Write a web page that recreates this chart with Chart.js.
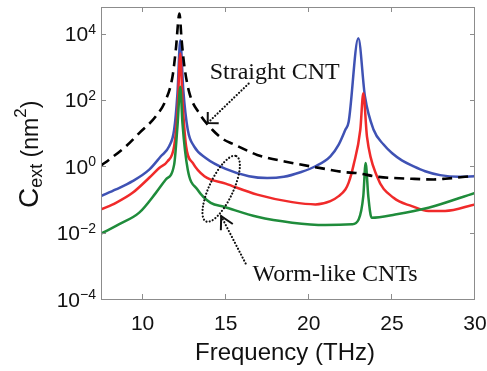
<!DOCTYPE html>
<html>
<head>
<meta charset="utf-8">
<script src="https://cdn.jsdelivr.net/npm/chart.js@4.4.1/dist/chart.umd.min.js"></script>
<style>
  html, body { margin: 0; padding: 0; background: #fff; }
  canvas { display: block; }
</style>
</head>
<body>
<canvas id="cextChart" width="487" height="371"></canvas>
<script>
// extinction cross section (nm^2) vs frequency (THz)
const freqStraight = [7.5, 8.0, 9.0, 9.8, 10.8, 11.4, 11.8, 12.0, 12.22, 12.35, 12.52, 12.82, 13.4, 14.2, 14.9, 15.4, 16.4, 16.9, 19.0, 21.0, 22.2, 22.8, 24.2, 26.2, 27.5, 28.2, 30]
const cextStraight = [1.05, 1.6, 4.0, 10, 32, 100, 500, 3200, 40000, 6300, 1000, 160, 40, 12.6, 6.3, 4.8, 2.8, 2.2, 1.26, 0.83, 0.66, 0.63, 0.48, 0.42, 0.40, 0.42, 0.52]

const freqWormA = [7.5, 8.4, 9.4, 10.4, 11.1, 11.6, 11.9, 12.1, 12.27, 12.45, 12.72, 13.1, 13.8, 15.0, 16.4, 17.5, 18.5, 19.5, 20.4, 21.3, 21.8, 22.2, 22.4, 22.98, 23.38, 23.9, 24.5, 25.0, 25.6, 26.3, 27.0, 27.9, 29.0, 30]
const cextWormA = [0.126, 0.2, 0.355, 0.79, 2.0, 4.0, 12.6, 158, 6300, 200, 12.6, 4.0, 1.78, 0.83, 0.5, 0.44, 0.48, 0.66, 1.0, 2.0, 4.5, 12.6, 22, 7200, 126, 12.6, 4.5, 2.5, 1.5, 1.0, 0.71, 0.54, 0.48, 0.5]

const freqWormB = [7.5, 8.4, 9.4, 10.4, 11.0, 11.5, 11.9, 12.1, 12.27, 12.4, 12.62, 13.02, 13.72, 15.0, 16.9, 19.0, 20.4, 21.3, 21.8, 22.2, 22.4, 22.7, 23.1, 23.28, 23.5, 24.1, 25.1, 26.2, 27.2, 28.2, 30]
const cextWormB = [0.05, 0.079, 0.158, 0.45, 0.89, 1.4, 4.0, 40, 2500, 100, 4.0, 1.26, 0.5, 0.3, 0.14, 0.083, 0.071, 0.089, 0.126, 0.2, 0.32, 1.12, 12.6, 158, 7.9, 0.5, 0.112, 0.063, 0.045, 0.045, 0.071]

const freqWormC = [7.5, 8.6, 9.8, 10.8, 11.4, 11.9, 12.1, 12.27, 12.4, 12.72, 13.3, 14.1, 14.9, 16.9, 19.0, 21.0, 22.6, 23.0, 23.28, 23.42, 23.58, 23.78, 25.2, 27.2, 30]
const cextWormC = [0.0093, 0.018, 0.04, 0.158, 0.4, 1.12, 15.8, 250, 20, 0.79, 0.2, 0.079, 0.06, 0.03, 0.02, 0.017, 0.018, 0.025, 0.126, 1.26, 0.126, 0.028, 0.035, 0.056, 0.158]

const xTicks = [10, 15, 20, 25, 30]
const yTickExps = [-4, -2, 0, 2, 4]

const SANS = '"Liberation Sans", Arial, sans-serif'
const SERIF = '"Liberation Serif", "Times New Roman", serif'

function points(xs, ys) {
  return xs.map((f, i) => ({ x: f, y: ys[i] }))
}

function dottedArrow(ctx, x0, y0, x1, y1, wing, spread) {
  ctx.save()
  ctx.lineCap = 'round'
  ctx.lineWidth = 2.2
  ctx.setLineDash([0.01, 3.3])
  ctx.beginPath()
  ctx.moveTo(x0, y0)
  ctx.lineTo(x1, y1)
  ctx.stroke()
  // open arrow head at (x1, y1)
  const back = Math.atan2(y0 - y1, x0 - x1)
  ctx.setLineDash([])
  ctx.lineWidth = 2
  ctx.lineCap = 'butt'
  ctx.beginPath()
  ctx.moveTo(x1 + wing * Math.cos(back - spread), y1 + wing * Math.sin(back - spread))
  ctx.lineTo(x1, y1)
  ctx.lineTo(x1 + wing * Math.cos(back + spread), y1 + wing * Math.sin(back + spread))
  ctx.stroke()
  ctx.restore()
}

const frameAndLabels = {
  id: 'frameAndLabels',
  afterDraw(chart) {
    const { ctx, chartArea: a } = chart
    const x = chart.scales.x
    const y = chart.scales.y
    ctx.save()

    // box and inward ticks
    ctx.strokeStyle = '#8c8c8c'
    ctx.lineWidth = 1
    ctx.strokeRect(a.left + 0.5, a.top + 0.5, a.right - a.left - 1, a.bottom - a.top)
    ctx.beginPath()
    xTicks.forEach(v => {
      const px = Math.round(x.getPixelForValue(v)) - 0.5
      ctx.moveTo(px, a.bottom); ctx.lineTo(px, a.bottom - 5)
      ctx.moveTo(px, a.top); ctx.lineTo(px, a.top + 5)
    })
    yTickExps.forEach(e => {
      const py = Math.round(y.getPixelForValue(Math.pow(10, e))) + 0.5
      ctx.moveTo(a.left, py); ctx.lineTo(a.left + 5, py)
      ctx.moveTo(a.right, py); ctx.lineTo(a.right - 5, py)
    })
    ctx.stroke()

    ctx.fillStyle = '#111'
    ctx.textBaseline = 'alphabetic'

    // x tick labels
    ctx.font = '21px ' + SANS
    ctx.textAlign = 'center'
    xTicks.forEach(v => ctx.fillText(String(v), x.getPixelForValue(v), a.bottom + 31))

    // y tick labels as 10 with a raised exponent
    const right = a.left - 5
    yTickExps.forEach(e => {
      const py = y.getPixelForValue(Math.pow(10, e))
      const exp = e < 0 ? '\u2212' + Math.abs(e) : String(e)
      ctx.font = '14px ' + SANS
      const w = ctx.measureText(exp).width
      ctx.textAlign = 'left'
      ctx.fillText(exp, right - w, py)
      ctx.font = '21px ' + SANS
      ctx.textAlign = 'right'
      ctx.fillText('10', right - w, py + 7.5)
    })

    // x title
    ctx.font = '24px ' + SANS
    ctx.textAlign = 'center'
    ctx.fillText('Frequency (THz)', (a.left + a.right) / 2 - 3, 360)

    // y title: C_ext (nm^2)
    ctx.save()
    ctx.translate(38, 208)
    ctx.rotate(-Math.PI / 2)
    ctx.textAlign = 'left'
    let cx = 0
    const part = (txt, size, dy) => {
      ctx.font = size + 'px ' + SANS
      ctx.fillText(txt, cx, dy)
      cx += ctx.measureText(txt).width
    }
    part('C', 28, 0)
    part('ext', 18, 4)
    part(' (nm', 23, 0)
    part('2', 17, -12)
    part(')', 23, 0)
    ctx.restore()

    // annotations
    ctx.strokeStyle = '#111'
    ctx.font = '24px ' + SERIF
    ctx.textAlign = 'left'
    ctx.fillText('Straight CNT', x.getPixelForValue(14.04), y.getPixelForValue(437))
    dottedArrow(ctx,
      x.getPixelForValue(16.38), y.getPixelForValue(309),
      x.getPixelForValue(13.92), y.getPixelForValue(20.2), 11, 0.8)

    ctx.fillText('Worm-like CNTs', x.getPixelForValue(16.62), y.getPixelForValue(3.4e-4))
    dottedArrow(ctx,
      x.getPixelForValue(16.2), y.getPixelForValue(1.18e-3),
      x.getPixelForValue(14.73), y.getPixelForValue(0.0313), 14, 0.5)

    // loop around the worm-like curves
    ctx.lineCap = 'round'
    ctx.lineWidth = 2.2
    ctx.setLineDash([0.01, 3.3])
    ctx.beginPath()
    ctx.ellipse(x.getPixelForValue(14.73), y.getPixelForValue(0.21), 36, 12, -65 * Math.PI / 180, 0, Math.PI * 2)
    ctx.stroke()

    ctx.restore()
  }
}

new Chart(document.getElementById('cextChart'), {
  type: 'line',
  data: {
    datasets: [
      {
        label: 'Straight CNT',
        data: points(freqStraight, cextStraight),
        borderColor: '#000',
        borderDash: [10, 6],
        borderWidth: 2.6
      },
      {
        label: 'Worm-like C',
        data: points(freqWormC, cextWormC),
        borderColor: '#1f8c3b'
      },
      {
        label: 'Worm-like B',
        data: points(freqWormB, cextWormB),
        borderColor: '#f02a2a'
      },
      {
        label: 'Worm-like A',
        data: points(freqWormA, cextWormA),
        borderColor: '#3f52b4'
      }
    ]
  },
  options: {
    responsive: false,
    animation: false,
    devicePixelRatio: 1,
    layout: { padding: { left: 101, right: 12, top: 7, bottom: 72 } },
    plugins: { legend: { display: false }, tooltip: { enabled: false } },
    elements: {
      point: { radius: 0 },
      line: { borderWidth: 2.5, cubicInterpolationMode: 'monotone' }
    },
    scales: {
      x: { type: 'linear', min: 7.5, max: 30, display: false },
      y: { type: 'logarithmic', min: 1e-4, max: 6.3e4, display: false }
    }
  },
  plugins: [frameAndLabels]
})
</script>
</body>
</html>
